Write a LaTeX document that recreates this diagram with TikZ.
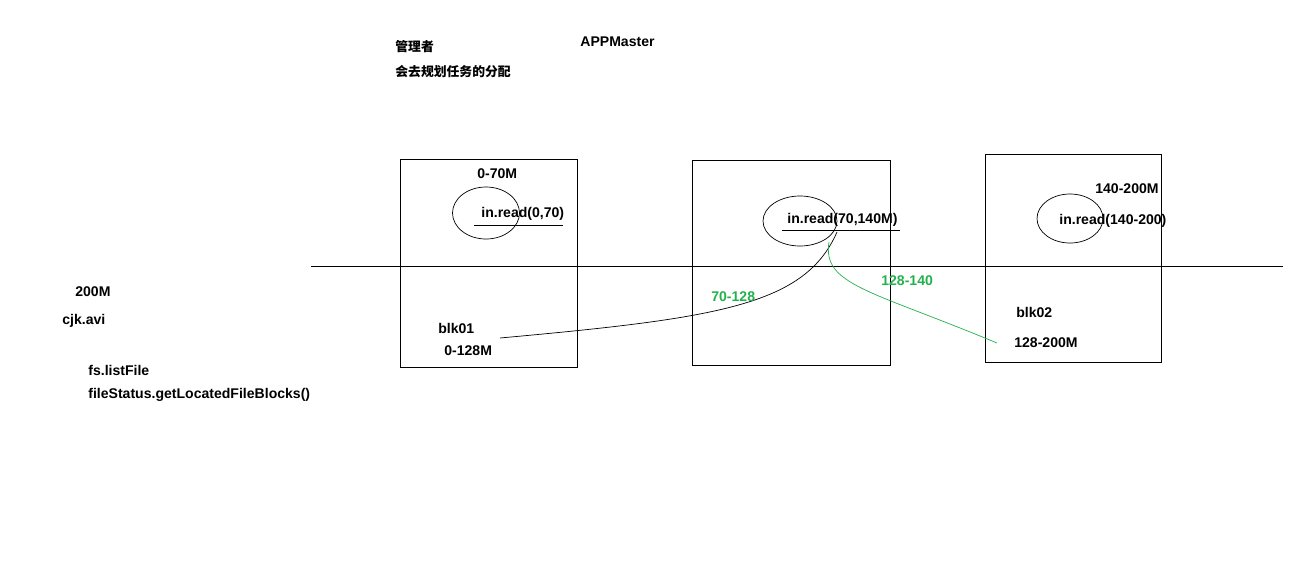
\documentclass[tikz,border=0pt]{standalone}
\usepackage{fontspec}
\setmainfont{Liberation Sans}
\newfontfamily\cjk{Noto Sans CJK SC}
\usetikzlibrary{positioning, shapes.geometric}
\definecolor{pgreen}{RGB}{34,177,76}

\begin{document}
\begin{tikzpicture}[
  x=0.02cm, y=-0.02cm,
  lbl/.style={font=\fontsize{8}{9}\selectfont\bfseries, inner sep=0pt, anchor=west},
  cjklbl/.style={lbl, font=\cjk\fontsize{7.3}{8}\selectfont\bfseries},
  grn/.style={lbl, text=pgreen},
  blockbox/.style={draw, anchor=north west, inner sep=0pt},
  task/.style={draw, ellipse, inner sep=0pt}
]
\useasboundingbox (0,0) rectangle (1316,569);
% Manager notes
\node[cjklbl] (mgr) at (395,47) {管理者};
\node[cjklbl] (plan) at (395,72) {会去规划任务的分配};
\node[lbl] (master) at (580,42) {APPMaster};

% File info
\node[lbl] (size) at (75,292) {200M};
\node[lbl] (file) at (62,321) {cjk.avi};
\node[lbl] (list) at (88,370) {fs.listFile};
\node[lbl] (blocks) at (88,395) {fileStatus.getLocatedFileBlocks()};

% Boxes
\node[blockbox, minimum width=177*0.02cm, minimum height=208*0.02cm] (b1) at (400,159) {};
\node[blockbox, minimum width=198*0.02cm, minimum height=205*0.02cm] (b2) at (692,160) {};
\node[blockbox, minimum width=176*0.02cm, minimum height=208*0.02cm] (b3) at (985,154) {};

% Divider
\draw (311,266) -- (1283,266);

% Box 1
\node[lbl] (r1) at (477,174) {0-70M};
\node[task, minimum width=67*0.02cm, minimum height=52*0.02cm] (e1) at (486,213) {};
\node[lbl] (t1) at (481,214) {in.read(0,70)};
\draw (474,225) -- (563,225);
\node[lbl] (k1) at (438,328) {blk01};
\node[lbl] (s1) at (444,351) {0-128M};

% Box 2
\node[task, minimum width=74*0.02cm, minimum height=50*0.02cm] (e2) at (800,221) {};
\node[lbl] (t2) at (787,220) {in.read(70,140M)};
\draw (782,230) -- (900,230);
\coordinate (c1) at (500,338);
\coordinate (c2) at (837,232);
\coordinate (c3) at (829,242);
\coordinate (c4) at (997,343);
\draw (c1) .. controls (720,318) and (805,305) .. (c2);
\draw[pgreen] (c3) .. controls (822,285) and (870,290) .. (c4);
\node[grn] (g1) at (711,297) {70-128};
\node[grn] (g2) at (881,281) {128-140};

% Box 3
\node[lbl] (r3) at (1095,189) {140-200M};
\node[task, minimum width=66*0.02cm, minimum height=49*0.02cm] (e3) at (1070,218.5) {};
\node[lbl] (t3) at (1059,221) {in.read(140-200)};
\node[lbl] (k3) at (1016,312) {blk02};
\node[lbl] (s3) at (1014,343) {128-200M};
\end{tikzpicture}
\end{document}
